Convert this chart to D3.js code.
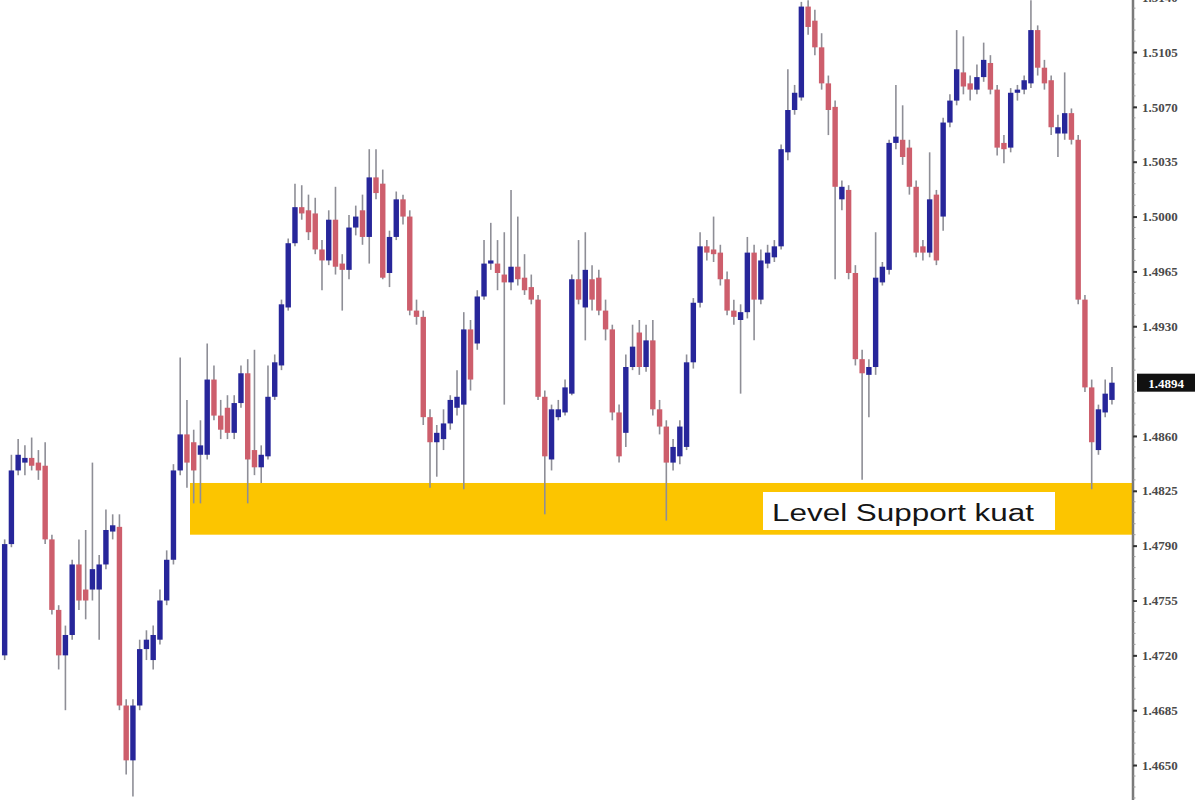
<!DOCTYPE html>
<html>
<head>
<meta charset="utf-8">
<script src="https://cdn.jsdelivr.net/npm/d3@7"></script>
<style>
  html, body { margin: 0; padding: 0; background: #fff; }
  svg { display: block; }
</style>
</head>
<body>
<svg id="chart" width="1200" height="800"></svg>
<script>
// ---- data ----
const openP = [1.4720,1.4791,1.4838,1.4843,1.4846,1.4843,1.4841,1.4794,1.4749,1.4720,
1.4733,1.4778,1.4762,1.4762,1.4762,1.4778,1.4799,1.4802,1.4688,1.4653,
1.4688,1.4724,1.4717,1.4730,1.4755,1.4781,1.4838,1.4861,1.4856,1.4848,
1.4848,1.4896,1.4873,1.4878,1.4862,1.4881,1.4900,1.4851,1.4840,1.4847,
1.4885,1.4905,1.4942,1.4983,1.5006,1.5004,1.5002,1.4979,1.4972,1.4998,
1.4970,1.4966,1.4993,1.5004,1.4987,1.5025,1.5021,1.4964,1.4987,1.5011,
1.5000,1.4940,1.4936,1.4872,1.4856,1.4858,1.4868,1.4878,1.4880,1.4928,
1.4919,1.4949,1.4970,1.4970,1.4963,1.4958,1.4968,1.4961,1.4955,1.4947,
1.4885,1.4845,1.4872,1.4875,1.4887,1.4960,1.4942,1.4960,1.4961,1.4940,
1.4928,1.4875,1.4862,1.4904,1.4926,1.4904,1.4921,1.4877,1.4866,1.4843,
1.4847,1.4853,1.4907,1.4945,1.4981,1.4979,1.4977,1.4960,1.4940,1.4934,
1.4939,1.4977,1.4947,1.4970,1.4974,1.4981,1.5041,1.5068,1.5076,1.5134,
1.5125,1.5108,1.5085,1.5070,1.5011,1.5017,1.4964,1.4909,1.4899,1.4904,
1.4958,1.4966,1.5047,1.5049,1.5044,1.5019,1.4981,1.4977,1.5014,1.5000,
1.5060,1.5074,1.5092,1.5085,1.5081,1.5089,1.5098,1.5081,1.5047,1.5044,
1.5079,1.5081,1.5085,1.5119,1.5095,1.5087,1.5053,1.5053,1.5066,1.5049,
1.4947,1.4891,1.4851,1.4875,1.4883];

const highP = [1.4794,1.4848,1.4858,1.4854,1.4859,1.4851,1.4856,1.4797,1.4752,1.4739,
1.4781,1.4794,1.4800,1.4843,1.4784,1.4813,1.4810,1.4810,1.4692,1.4692,
1.4730,1.4736,1.4739,1.4762,1.4787,1.4842,1.4910,1.4883,1.4864,1.4870,
1.4919,1.4905,1.4883,1.4886,1.4886,1.4905,1.4909,1.4915,1.4854,1.4905,
1.4912,1.4947,1.4986,1.5021,1.5020,1.5014,1.5012,1.4985,1.5004,1.5019,
1.4976,1.5001,1.5007,1.5014,1.5043,1.5043,1.5030,1.4991,1.5016,1.5014,
1.5004,1.4947,1.4940,1.4877,1.4867,1.4877,1.4886,1.4902,1.4939,1.4934,
1.4953,1.4985,1.4996,1.4985,1.4990,1.5017,1.5000,1.4976,1.4963,1.4950,
1.4889,1.4880,1.4883,1.4896,1.4963,1.4985,1.4990,1.4969,1.4966,1.4947,
1.4931,1.4880,1.4912,1.4931,1.4934,1.4931,1.4934,1.4883,1.4870,1.4858,
1.4870,1.4912,1.4948,1.4990,1.4985,1.5000,1.4982,1.4965,1.4947,1.4944,
1.4987,1.4982,1.4979,1.4982,1.4985,1.5046,1.5094,1.5084,1.5137,1.5138,
1.5132,1.5117,1.5090,1.5074,1.5023,1.5020,1.4969,1.4915,1.4909,1.4990,
1.4971,1.5049,1.5084,1.5071,1.5049,1.5023,1.4985,1.5041,1.5017,1.5063,
1.5078,1.5119,1.5115,1.5090,1.5097,1.5111,1.5103,1.5084,1.5052,1.5082,
1.5084,1.5090,1.5138,1.5122,1.5100,1.5090,1.5065,1.5092,1.5069,1.5052,
1.4950,1.4896,1.4880,1.4896,1.4904];

const lowP = [1.4717,1.4789,1.4835,1.4835,1.4838,1.4832,1.4791,1.4746,1.4711,1.4685,
1.4730,1.4749,1.4743,1.4755,1.4730,1.4775,1.4794,1.4685,1.4644,1.4630,
1.4685,1.4717,1.4711,1.4727,1.4752,1.4778,1.4835,1.4827,1.4817,1.4817,
1.4845,1.4870,1.4858,1.4858,1.4858,1.4878,1.4817,1.4835,1.4830,1.4845,
1.4883,1.4902,1.4940,1.4981,1.4998,1.4985,1.4976,1.4953,1.4969,1.4963,
1.4940,1.4960,1.4988,1.4982,1.4970,1.5011,1.4960,1.4955,1.4985,1.4995,
1.4937,1.4931,1.4867,1.4827,1.4834,1.4851,1.4864,1.4873,1.4826,1.4889,
1.4915,1.4947,1.4966,1.4953,1.4880,1.4953,1.4956,1.4950,1.4944,1.4883,
1.4810,1.4838,1.4870,1.4873,1.4886,1.4944,1.4921,1.4940,1.4937,1.4921,
1.4870,1.4843,1.4853,1.4902,1.4899,1.4901,1.4873,1.4861,1.4806,1.4838,
1.4842,1.4851,1.4903,1.4942,1.4972,1.4971,1.4956,1.4937,1.4931,1.4887,
1.4935,1.4921,1.4944,1.4967,1.4971,1.4979,1.5036,1.5065,1.5074,1.5116,
1.5103,1.5081,1.5052,1.4960,1.5004,1.4960,1.4905,1.4832,1.4872,1.4899,
1.4956,1.4963,1.5043,1.5033,1.5014,1.4974,1.4972,1.4974,1.4969,1.4991,
1.5057,1.5071,1.5078,1.5074,1.5078,1.5086,1.5078,1.5039,1.5034,1.5041,
1.5074,1.5078,1.5082,1.5090,1.5081,1.5052,1.5038,1.5049,1.5046,1.4944,
1.4888,1.4826,1.4848,1.4872,1.4880];

const closeP = [1.4791,1.4838,1.4848,1.4846,1.4841,1.4838,1.4794,1.4749,1.4720,1.4733,
1.4778,1.4755,1.4755,1.4775,1.4778,1.4800,1.4803,1.4688,1.4653,1.4688,
1.4724,1.4730,1.4733,1.4755,1.4781,1.4838,1.4861,1.4843,1.4838,1.4854,
1.4896,1.4873,1.4864,1.4862,1.4881,1.4900,1.4845,1.4840,1.4848,1.4885,
1.4907,1.4944,1.4983,1.5006,1.5002,1.4990,1.4979,1.4972,1.4998,1.4968,
1.4966,1.4993,1.5000,1.4987,1.5025,1.5015,1.4961,1.4987,1.5011,1.5000,
1.4940,1.4936,1.4872,1.4856,1.4862,1.4868,1.4883,1.4885,1.4928,1.4896,
1.4949,1.4970,1.4972,1.4964,1.4958,1.4968,1.4960,1.4953,1.4947,1.4885,
1.4847,1.4877,1.4877,1.4891,1.4960,1.4947,1.4966,1.4947,1.4940,1.4928,
1.4875,1.4847,1.4904,1.4917,1.4904,1.4921,1.4877,1.4866,1.4843,1.4853,
1.4866,1.4907,1.4945,1.4981,1.4977,1.4976,1.4960,1.4940,1.4936,1.4939,
1.4977,1.4947,1.4972,1.4977,1.4981,1.5043,1.5068,1.5079,1.5134,1.5121,
1.5108,1.5085,1.5068,1.5019,1.5019,1.4964,1.4909,1.4900,1.4904,1.4961,
1.4968,1.5047,1.5051,1.5038,1.5019,1.4977,1.4977,1.5011,1.4972,1.5060,
1.5074,1.5094,1.5083,1.5081,1.5089,1.5100,1.5081,1.5044,1.5043,1.5079,
1.5081,1.5087,1.5119,1.5095,1.5085,1.5057,1.5057,1.5066,1.5049,1.4947,
1.4891,1.4856,1.4877,1.4887,1.4894];

const tickLabels = ["1.5140","1.5105","1.5070","1.5035","1.5000","1.4965","1.4930",
                    "1.4860","1.4825","1.4790","1.4755","1.4720","1.4685","1.4650"];
const currentPrice = 1.4894;
const supportZone = [1.4797, 1.4830];
const supportLabel = "Level Support kuat";

// ---- build ----
const W = 1200, H = 800;
const candles = openP.map((o, i) => ({ i, o, h: highP[i], l: lowP[i], c: closeP[i] }));

const svg = d3.select("#chart");
const axisX = 1133;

const x = d3.scaleBand().domain(d3.range(candles.length)).range([0.6, 1116]).padding(0.2);
const y = d3.scaleLinear().domain([1.46277, 1.51382]).range([H, 0]);

// support zone
svg.append("rect")
  .attr("x", 190).attr("width", axisX - 190)
  .attr("y", y(supportZone[1])).attr("height", y(supportZone[0]) - y(supportZone[1]))
  .attr("fill", "#fcc500");

// candles
const g = svg.append("g");
const bull = "#27269a", bear = "#cd5e6c";
g.selectAll("line.wick").data(candles).join("line")
  .attr("class", "wick")
  .attr("x1", d => x(d.i) + x.bandwidth() / 2).attr("x2", d => x(d.i) + x.bandwidth() / 2)
  .attr("y1", d => y(d.h)).attr("y2", d => y(d.l))
  .attr("stroke", "#8e8e96").attr("stroke-width", 1.6);

g.selectAll("rect.body").data(candles).join("rect")
  .attr("class", "body")
  .attr("x", d => x(d.i)).attr("width", x.bandwidth())
  .attr("y", d => y(Math.max(d.o, d.c)))
  .attr("height", d => Math.max(2, Math.abs(y(d.o) - y(d.c))))
  .attr("fill", d => d.c >= d.o ? bull : bear);

// label box
const box = svg.append("g");
box.append("rect").attr("x", 763).attr("y", 492).attr("width", 292).attr("height", 38).attr("fill", "#fff");
box.append("text").attr("x", 772).attr("y", 521)
  .attr("font-family", "Liberation Sans, Arial, sans-serif").attr("font-size", 23)
  .attr("textLength", 262).attr("lengthAdjust", "spacingAndGlyphs")
  .attr("fill", "#151515").text(supportLabel);

// right axis
svg.append("rect").attr("x", axisX).attr("y", 0).attr("width", W - axisX).attr("height", H).attr("fill", "#fff");
svg.append("line").attr("x1", axisX).attr("x2", axisX).attr("y1", 0).attr("y2", H)
  .attr("stroke", "#7a7a7a").attr("stroke-width", 2.5);

const minor = d3.range(1.4615, 1.5150, 0.0007);
svg.selectAll("line.minor").data(minor).join("line")
  .attr("x1", axisX).attr("x2", axisX + 2.5)
  .attr("y1", d => y(d)).attr("y2", d => y(d))
  .attr("stroke", "#999").attr("stroke-width", 1);

const ax = svg.append("g").attr("transform", `translate(${axisX},0)`)
  .call(d3.axisRight(y).tickValues(tickLabels.map(Number)).tickSize(4).tickFormat(d3.format(".4f")));
ax.select(".domain").remove();
ax.selectAll(".tick line").attr("stroke", "#333").attr("stroke-width", 2);
ax.selectAll(".tick text").attr("x", 9)
  .attr("font-family", "Liberation Serif, serif").attr("font-size", 13).attr("font-weight", "bold")
  .attr("fill", "#4a4a4a");

// current price label
const cp = svg.append("g");
cp.append("rect").attr("x", 1137).attr("y", y(currentPrice) - 9).attr("width", 58).attr("height", 18).attr("fill", "#111");
cp.append("text").attr("x", 1166).attr("y", y(currentPrice) + 5).attr("text-anchor", "middle")
  .attr("font-family", "Liberation Serif, serif").attr("font-size", 13).attr("font-weight", "bold")
  .attr("fill", "#fff").text(d3.format(".4f")(currentPrice));
</script>
</body>
</html>
